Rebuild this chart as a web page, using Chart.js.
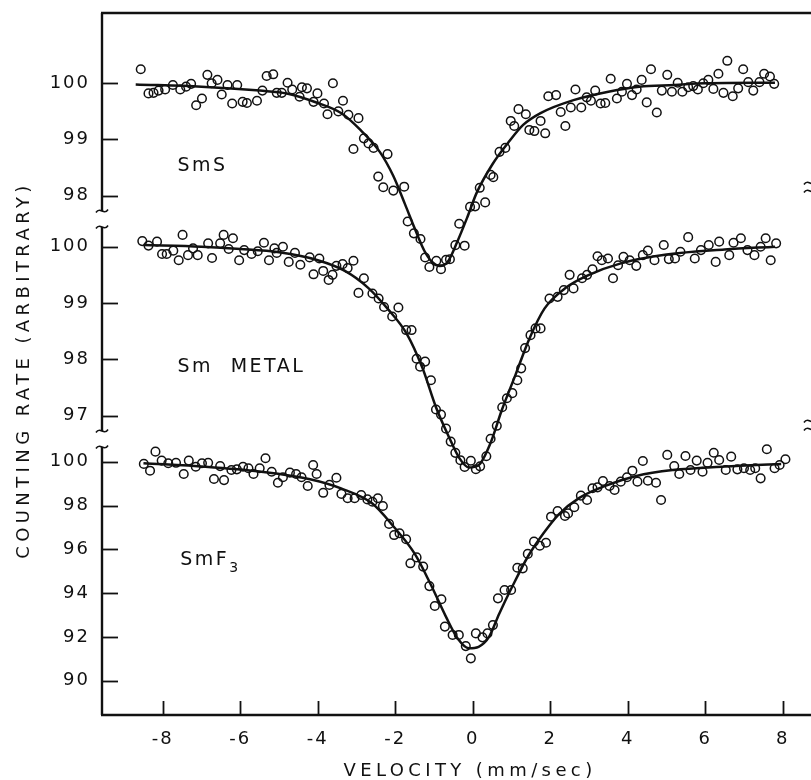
<!DOCTYPE html>
<html>
<head>
<meta charset="utf-8">
<title>Mossbauer spectra</title>
<script src="https://cdn.jsdelivr.net/npm/chart.js@4.4.1/dist/chart.umd.min.js"></script>
<style>
  html, body { margin: 0; padding: 0; background: #fff; }
  canvas { display: block; }
</style>
</head>
<body>
<canvas id="chart" width="811" height="780"></canvas>
<script>
// tick values
const velocityTicks = [-8, -6, -4, -2, 0, 2, 4, 6, 8];
const smsTicks = [98, 99, 100];
const metalTicks = [97, 98, 99, 100];
const f3Ticks = [90, 92, 94, 96, 98, 100];

// SmS - measured points
const smsVel = [-8.57, -8.37, -8.24, -8.11, -7.94, -7.74, -7.55, -7.40, -7.27, -7.14, -6.99, -6.85, -6.74, -6.59, -6.48, -6.33, -6.21, -6.08, -5.94, -5.83,
  -5.57, -5.43, -5.32, -5.15, -5.06, -4.93, -4.78, -4.66, -4.47, -4.41, -4.28, -4.11, -4.01, -3.84, -3.75, -3.61, -3.47, -3.35, -3.21, -3.08,
  -2.95, -2.81, -2.69, -2.56, -2.44, -2.31, -2.20, -2.05, -1.77, -1.68, -1.52, -1.35, -1.23, -1.12, -0.94, -0.82, -0.69, -0.59, -0.45, -0.35,
  -0.21, -0.07, 0.06, 0.18, 0.32, 0.46, 0.53, 0.69, 0.84, 0.98, 1.07, 1.18, 1.37, 1.46, 1.59, 1.75, 1.87, 1.95, 2.15, 2.27,
  2.39, 2.53, 2.65, 2.80, 2.94, 3.05, 3.16, 3.30, 3.42, 3.56, 3.72, 3.85, 3.98, 4.11, 4.23, 4.36, 4.49, 4.60, 4.75, 4.88,
  5.02, 5.14, 5.29, 5.41, 5.56, 5.69, 5.81, 5.95, 6.08, 6.21, 6.34, 6.47, 6.57, 6.71, 6.85, 6.98, 7.11, 7.24, 7.40, 7.52,
  7.67, 7.78];
const smsRate = [100.25, 99.82, 99.83, 99.87, 99.89, 99.97, 99.89, 99.94, 99.99, 99.61, 99.73, 100.15, 100.00, 100.06, 99.80, 99.97, 99.64, 99.97, 99.67, 99.65,
  99.69, 99.87, 100.13, 100.16, 99.83, 99.83, 100.01, 99.89, 99.76, 99.93, 99.91, 99.67, 99.82, 99.64, 99.45, 100.00, 99.50, 99.69, 99.44, 98.83,
  99.38, 99.02, 98.93, 98.85, 98.34, 98.15, 98.74, 98.09, 98.16, 97.54, 97.33, 97.23, 96.90, 96.73, 96.84, 96.69, 96.86, 96.87, 97.12, 97.50,
  97.11, 97.80, 97.81, 98.14, 97.88, 98.37, 98.33, 98.78, 98.85, 99.33, 99.24, 99.54, 99.45, 99.17, 99.15, 99.33, 99.11, 99.77, 99.79, 99.49,
  99.24, 99.57, 99.89, 99.57, 99.75, 99.69, 99.87, 99.64, 99.65, 100.08, 99.73, 99.85, 99.99, 99.79, 99.89, 100.06, 99.66, 100.25, 99.48, 99.87,
  100.15, 99.85, 100.01, 99.85, 99.93, 99.95, 99.89, 100.00, 100.06, 99.90, 100.17, 99.83, 100.40, 99.77, 99.91, 100.25, 100.02, 99.87, 100.02, 100.17,
  100.12, 99.99];
// SmS - fitted curve
const smsFitVel = [-8.7, -7.0, -5.5, -4.8, -4.0, -3.4, -2.9, -2.4, -2.05, -1.75, -1.5, -1.25, -1.05, -0.85, -0.65, -0.4, -0.15, 0.1, 0.5, 0.9,
  1.3, 1.75, 2.6, 3.5, 4.3, 5.2, 6.0, 7.8];
const smsFitRate = [99.98, 99.94, 99.87, 99.82, 99.65, 99.47, 99.17, 98.78, 98.35, 97.85, 97.42, 97.02, 96.82, 96.75, 96.82, 97.18, 97.6, 98.05, 98.55, 98.93,
  99.26, 99.47, 99.7, 99.85, 99.94, 99.97, 100.0, 100.01];

// Sm metal - measured points
const metalVel = [-8.53, -8.37, -8.15, -8.02, -7.90, -7.73, -7.59, -7.49, -7.35, -7.22, -7.10, -6.83, -6.73, -6.52, -6.43, -6.30, -6.19, -6.03, -5.90, -5.71,
  -5.55, -5.39, -5.26, -5.12, -5.06, -4.90, -4.75, -4.59, -4.45, -4.21, -4.11, -3.96, -3.86, -3.72, -3.62, -3.52, -3.36, -3.23, -3.08, -2.95,
  -2.81, -2.59, -2.43, -2.29, -2.08, -1.92, -1.72, -1.58, -1.45, -1.36, -1.23, -1.08, -0.95, -0.82, -0.69, -0.57, -0.45, -0.32, -0.21, -0.05,
  0.08, 0.19, 0.35, 0.46, 0.62, 0.76, 0.88, 1.02, 1.15, 1.25, 1.35, 1.49, 1.62, 1.75, 1.98, 2.19, 2.35, 2.50, 2.60, 2.82,
  2.95, 3.09, 3.22, 3.33, 3.49, 3.62, 3.75, 3.89, 4.05, 4.22, 4.39, 4.52, 4.69, 4.93, 5.06, 5.22, 5.36, 5.56, 5.73, 5.89,
  6.09, 6.27, 6.36, 6.62, 6.73, 6.92, 7.09, 7.27, 7.43, 7.56, 7.69, 7.83];
const metalRate = [100.10, 100.02, 100.09, 99.87, 99.87, 99.93, 99.76, 100.21, 99.85, 99.97, 99.85, 100.06, 99.80, 100.06, 100.21, 99.96, 100.15, 99.76, 99.94, 99.87,
  99.92, 100.07, 99.76, 99.97, 99.89, 100.00, 99.73, 99.89, 99.68, 99.81, 99.51, 99.79, 99.57, 99.41, 99.50, 99.66, 99.69, 99.62, 99.75, 99.18,
  99.44, 99.17, 99.08, 98.93, 98.76, 98.92, 98.52, 98.52, 98.01, 97.87, 97.96, 97.63, 97.11, 97.02, 96.77, 96.54, 96.34, 96.21, 96.09, 96.20,
  96.05, 96.10, 96.28, 96.59, 96.82, 97.15, 97.31, 97.40, 97.63, 97.84, 98.20, 98.43, 98.55, 98.55, 99.08, 99.11, 99.23, 99.50, 99.26, 99.44,
  99.50, 99.60, 99.83, 99.76, 99.79, 99.44, 99.67, 99.82, 99.76, 99.66, 99.85, 99.93, 99.76, 100.03, 99.78, 99.79, 99.91, 100.17, 99.79, 99.94,
  100.03, 99.73, 100.09, 99.85, 100.07, 100.15, 99.94, 99.85, 100.00, 100.15, 99.76, 100.06];
// Sm metal - fitted curve
const metalFitVel = [-8.5, -7.0, -6.0, -5.0, -4.0, -3.3, -2.7, -2.2, -1.7, -1.3, -0.95, -0.6, -0.35, -0.1, 0.15, 0.45, 0.75, 1.1, 1.45, 1.85,
  2.4, 3.0, 3.8, 5.0, 6.5, 7.8];
const metalFitRate = [100.03, 100.0, 99.96, 99.9, 99.76, 99.57, 99.27, 98.9, 98.45, 97.85, 97.15, 96.6, 96.25, 96.08, 96.12, 96.5, 97.1, 97.72, 98.35, 98.9,
  99.27, 99.5, 99.7, 99.86, 99.95, 100.0];

// SmF3 - measured points
const f3Vel = [-8.49, -8.33, -8.19, -8.03, -7.86, -7.66, -7.46, -7.33, -7.15, -6.99, -6.83, -6.68, -6.52, -6.42, -6.23, -6.09, -5.93, -5.79, -5.66, -5.50,
  -5.35, -5.19, -5.03, -4.90, -4.72, -4.56, -4.42, -4.26, -4.12, -4.03, -3.86, -3.70, -3.52, -3.39, -3.23, -3.05, -2.88, -2.72, -2.59, -2.45,
  -2.32, -2.16, -2.03, -1.89, -1.72, -1.61, -1.45, -1.28, -1.12, -0.98, -0.81, -0.72, -0.52, -0.36, -0.18, -0.05, 0.08, 0.25, 0.38, 0.52,
  0.65, 0.82, 0.99, 1.15, 1.29, 1.42, 1.58, 1.73, 1.89, 2.02, 2.19, 2.38, 2.46, 2.62, 2.79, 2.95, 3.09, 3.22, 3.36, 3.53,
  3.66, 3.82, 3.98, 4.12, 4.25, 4.39, 4.52, 4.73, 4.86, 5.02, 5.20, 5.33, 5.49, 5.62, 5.78, 5.93, 6.06, 6.22, 6.36, 6.53,
  6.67, 6.83, 7.00, 7.16, 7.29, 7.43, 7.59, 7.79, 7.92, 8.07];
const f3Rate = [99.90, 99.59, 100.46, 100.05, 99.93, 99.95, 99.44, 100.05, 99.77, 99.93, 99.95, 99.21, 99.80, 99.16, 99.62, 99.65, 99.77, 99.70, 99.44, 99.70,
  100.16, 99.54, 99.04, 99.29, 99.50, 99.44, 99.29, 98.89, 99.85, 99.44, 98.58, 98.94, 99.27, 98.53, 98.33, 98.33, 98.48, 98.28, 98.17, 98.33,
  97.98, 97.16, 96.65, 96.73, 96.46, 95.36, 95.63, 95.21, 94.32, 93.41, 93.72, 92.47, 92.09, 92.09, 91.58, 91.02, 92.16, 91.98, 92.16, 92.54,
  93.76, 94.14, 94.14, 95.16, 95.13, 95.79, 96.35, 96.16, 96.30, 97.49, 97.75, 97.52, 97.64, 97.92, 98.45, 98.25, 98.79, 98.83, 99.12, 98.89,
  98.71, 99.09, 99.29, 99.59, 99.09, 100.03, 99.13, 99.04, 98.25, 100.31, 99.80, 99.44, 100.26, 99.62, 100.05, 99.54, 99.95, 100.41, 100.08, 99.62,
  100.23, 99.65, 99.70, 99.62, 99.70, 99.24, 100.57, 99.70, 99.85, 100.11];
// SmF3 - fitted curve
const f3FitVel = [-8.5, -6.9, -5.5, -4.2, -3.4, -2.6, -2.05, -1.5, -1.1, -0.7, -0.38, -0.1, 0.15, 0.42, 0.68, 1.02, 1.42, 1.82, 2.22, 2.75,
  3.42, 4.22, 5.16, 6.5, 7.96];
const f3FitRate = [99.93, 99.77, 99.55, 99.2, 98.78, 98.1, 97.05, 95.8, 94.45, 92.95, 91.9, 91.48, 91.55, 92.0, 93.05, 94.3, 95.66, 96.72, 97.6, 98.35,
  98.9, 99.35, 99.62, 99.78, 99.9];

const INK = "#111";
const FONT = "'DejaVu Sans', sans-serif";

function pts(xs, ys) {
  return xs.map((x, i) => ({ x: x, y: ys[i] }));
}

function fitSet(xs, ys, axisId) {
  return {
    data: pts(xs, ys), yAxisID: axisId, showLine: true, pointRadius: 0,
    borderColor: INK, borderWidth: 2.5, cubicInterpolationMode: "monotone", clip: false
  };
}

function pointSet(xs, ys, axisId) {
  return {
    data: pts(xs, ys), yAxisID: axisId, showLine: false, pointRadius: 4.3,
    pointBorderWidth: 1.5, pointBorderColor: INK, pointBackgroundColor: "rgba(0,0,0,0)", clip: false
  };
}

function panelAxis(ticks, min, max, stackWeight, weight) {
  return {
    type: "linear", position: "left", stack: "panels", stackWeight: stackWeight, weight: weight,
    min: min, max: max,
    grid: { display: false, drawTicks: false },
    border: { display: false },
    afterBuildTicks: axis => { axis.ticks = ticks.map(v => ({ value: v })); },
    afterFit: axis => {
      axis.width = 102;
      axis.paddingTop = 0;
      axis.paddingBottom = 0;
    },
    ticks: { color: INK, padding: 12, font: { family: FONT, size: 18 } }
  };
}

// breaks, frame, inward ticks, titles, panel labels
const framePlugin = {
  id: "frame",
  beforeDraw(chart) {
    chart.ctx.letterSpacing = "2px";
  },
  afterDraw(chart) {
    const ctx = chart.ctx;
    const area = chart.chartArea;
    const xs = chart.scales.x;
    const sms = chart.scales.ySms, metal = chart.scales.yMetal, f3 = chart.scales.yF3;
    const L = area.left, R = area.right;

    ctx.save();
    ctx.strokeStyle = INK;
    ctx.lineCap = "butt";

    function tilde(cx, cy) {
      ctx.beginPath();
      ctx.moveTo(cx - 6, cy + 1.5);
      ctx.bezierCurveTo(cx - 2, cy - 5, cx + 2, cy + 5, cx + 6, cy - 1.5);
      ctx.stroke();
    }
    function vline(x, y1, y2) {
      ctx.beginPath();
      ctx.moveTo(x, y1);
      ctx.lineTo(x, y2);
      ctx.stroke();
    }

    // frame lines
    ctx.lineWidth = 2.4;
    ctx.beginPath();
    ctx.moveTo(L - 1, area.top);
    ctx.lineTo(R, area.top);
    ctx.moveTo(L - 1, area.bottom);
    ctx.lineTo(R, area.bottom);
    ctx.stroke();

    // left axis in three pieces with break marks
    vline(L, area.top, sms.bottom - 8);
    vline(L, metal.top + 8, metal.bottom - 8);
    vline(L, f3.top + 8, area.bottom);
    ctx.lineWidth = 1.6;
    tilde(L, sms.bottom - 8);
    tilde(L, metal.top + 8);
    tilde(L, metal.bottom - 8);
    tilde(L, f3.top + 8);

    // right edge break marks (cut by the border of the picture)
    [sms.bottom - 36, sms.bottom - 28, metal.bottom - 18, metal.bottom - 10].forEach(y => tilde(R - 1, y));

    // inward tick marks
    ctx.lineWidth = 1.8;
    [[sms, smsTicks], [metal, metalTicks], [f3, f3Ticks]].forEach(([scale, ticks]) => {
      ticks.forEach(v => {
        const y = Math.round(scale.getPixelForValue(v)) + 0.5;
        ctx.beginPath();
        ctx.moveTo(L, y);
        ctx.lineTo(L + 16, y);
        ctx.stroke();
      });
    });
    velocityTicks.forEach(v => {
      const x = Math.round(xs.getPixelForValue(v)) + 0.5;
      vline(x, area.bottom, area.bottom - 14);
    });

    // axis titles
    ctx.fillStyle = INK;
    ctx.font = "18px " + FONT;
    ctx.letterSpacing = "4.4px";
    ctx.textBaseline = "middle";
    ctx.textAlign = "center";
    ctx.fillText("VELOCITY (mm/sec)", 470, 771);
    ctx.save();
    ctx.translate(24, 372);
    ctx.rotate(-Math.PI / 2);
    ctx.fillText("COUNTING RATE (ARBITRARY)", 2, 0);
    ctx.restore();

    // panel labels
    ctx.font = "19px " + FONT;
    ctx.letterSpacing = "2.5px";
    ctx.textAlign = "left";
    const lx = xs.getPixelForValue(-7.62);
    ctx.fillText("SmS", lx, sms.getPixelForValue(98.52));
    ctx.wordSpacing = "9px";
    ctx.fillText("Sm METAL", lx, metal.getPixelForValue(97.86));
    ctx.wordSpacing = "0px";
    const fy = f3.getPixelForValue(95.49);
    const fx = xs.getPixelForValue(-7.55);
    ctx.fillText("SmF", fx, fy);
    const w = ctx.measureText("SmF").width;
    ctx.font = "14px " + FONT;
    ctx.letterSpacing = "0px";
    ctx.fillText("3", fx + w, fy + 8);

    ctx.restore();
    ctx.letterSpacing = "0px";
  }
};

new Chart(document.getElementById("chart"), {
  type: "scatter",
  data: {
    datasets: [
      fitSet(f3FitVel, f3FitRate, "yF3"),
      fitSet(metalFitVel, metalFitRate, "yMetal"),
      fitSet(smsFitVel, smsFitRate, "ySms"),
      pointSet(f3Vel, f3Rate, "yF3"),
      pointSet(metalVel, metalRate, "yMetal"),
      pointSet(smsVel, smsRate, "ySms")
    ]
  },
  options: {
    responsive: false,
    animation: false,
    layout: { autoPadding: false, padding: { top: 13, right: 0, bottom: 0, left: 0 } },
    plugins: { legend: { display: false }, tooltip: { enabled: false } },
    scales: {
      x: {
        type: "linear", position: "bottom", min: -9.57, max: 8.73,
        grid: { display: false, drawTicks: false },
        border: { display: false },
        afterBuildTicks: axis => { axis.ticks = velocityTicks.map(v => ({ value: v })); },
        afterFit: axis => {
          axis.height = 65;
          axis.paddingLeft = 0;
          axis.paddingRight = 0;
        },
        ticks: { color: INK, padding: 14, maxRotation: 0, font: { family: FONT, size: 18 } }
      },
      yF3: panelAxis(f3Ticks, 88.434, 101.037, 276, 1),
      yMetal: panelAxis(metalTicks, 96.586, 100.492, 220, 2),
      ySms: panelAxis(smsTicks, 97.585, 101.251, 206, 3)
    }
  },
  plugins: [framePlugin]
});
</script>
</body>
</html>
